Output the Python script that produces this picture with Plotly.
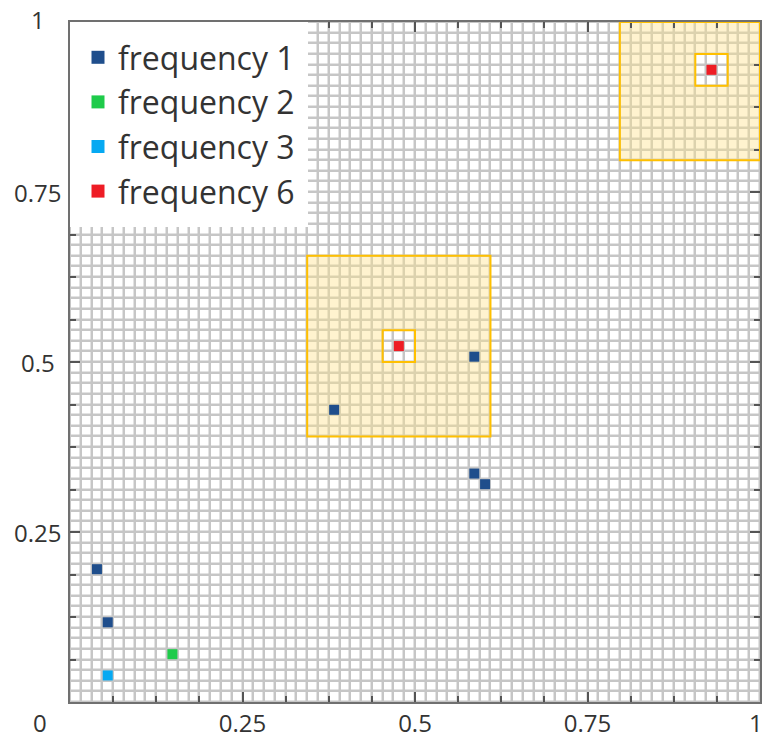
import numpy as np
import plotly.graph_objects as go

# ---------------- data ----------------
n_cells = 64
series_names = ["frequency 1", "frequency 2", "frequency 3", "frequency 6"]
series_colors = ["#1f4e8c", "#1ecb4a", "#06a9f2", "#ee1c25"]
freq1_x = [2, 3, 24, 37, 37, 38]
freq1_y = [12, 7, 27, 32, 21, 20]
freq2_x = [9]
freq2_y = [4]
freq3_x = [3]
freq3_y = [2]
freq6_x = [30, 59]
freq6_y = [33, 59]
outer_half = 8   # cells around each frequency-6 cell (outer highlight)
inner_half = 1   # cells around each frequency-6 cell (inner box)
tick_vals = [0.25, 0.5, 0.75, 1]
tick_text = ["0.25", "0.5", "0.75", "1"]

series_x = [freq1_x, freq2_x, freq3_x, freq6_x]
series_y = [freq1_y, freq2_y, freq3_y, freq6_y]

# ---------------- grid matrix ----------------
z = np.zeros((n_cells, n_cells))
for cx, cy in zip(freq6_x, freq6_y):
    for j in range(max(0, cy - outer_half), min(n_cells, cy + outer_half + 1)):
        for i in range(max(0, cx - outer_half), min(n_cells, cx + outer_half + 1)):
            if abs(i - cx) > inner_half or abs(j - cy) > inner_half:
                z[j, i] = 1
for k, (xs, ys) in enumerate(zip(series_x, series_y)):
    for i, j in zip(xs, ys):
        z[j, i] = 2 + k

cell_colors = ["#ffffff", "#fff3cf"] + series_colors
ncat = len(cell_colors)
colorscale = []
for k, c in enumerate(cell_colors):
    colorscale.append([k / ncat, c])
    colorscale.append([(k + 1) / ncat, c])

centers = (np.arange(n_cells) + 0.5) / n_cells

fig = go.Figure()
fig.add_trace(go.Heatmap(
    x=centers, y=centers, z=z, colorscale=colorscale,
    zmin=-0.5, zmax=ncat - 0.5, showscale=False, xgap=2.5, ygap=2.5,
    hoverinfo="skip", showlegend=False,
))

# coloured cells drawn slightly larger than the white cells
for name, col, xs, ys in zip(series_names, series_colors, series_x, series_y):
    fig.add_trace(go.Scatter(
        x=[(i + 0.5) / n_cells for i in xs], y=[(j + 0.5) / n_cells for j in ys],
        mode="markers", showlegend=False, hoverinfo="skip",
        marker=dict(symbol="square", size=10, color=col, line=dict(width=0)),
    ))
# legend entries
for name, col in zip(series_names, series_colors):
    fig.add_trace(go.Scatter(
        x=[None], y=[None], mode="markers", name=name, legendgroup=name,
        marker=dict(symbol="square", size=13, color=col),
    ))

shapes = []
cs = 1.0 / n_cells
for cx, cy in zip(freq6_x, freq6_y):
    ox0 = max(0, cx - outer_half) * cs
    ox1 = min(n_cells, cx + outer_half + 1) * cs
    oy0 = max(0, cy - outer_half) * cs
    oy1 = min(n_cells, cy + outer_half + 1) * cs
    ix0, ix1 = (cx - inner_half) * cs, (cx + inner_half + 1) * cs
    iy0, iy1 = (cy - inner_half) * cs, (cy + inner_half + 1) * cs
    path = (f"M{ox0},{oy0} L{ox1},{oy0} L{ox1},{oy1} L{ox0},{oy1} Z "
            f"M{ix0},{iy0} L{ix1},{iy0} L{ix1},{iy1} L{ix0},{iy1} Z")
    shapes.append(dict(type="path", path=path, xref="x", yref="y",
                       fillcolor="#dcd2ae", fillrule="evenodd",
                       line=dict(width=0), layer="below"))
    shapes.append(dict(type="rect", x0=ox0, x1=ox1, y0=oy0, y1=oy1,
                       xref="x", yref="y", line=dict(color="#ffc000", width=2),
                       fillcolor="rgba(0,0,0,0)", layer="above"))
    shapes.append(dict(type="rect", x0=ix0, x1=ix1, y0=iy0, y1=iy1,
                       xref="x", yref="y", line=dict(color="#ffc000", width=2),
                       fillcolor="rgba(0,0,0,0)", layer="above"))

label_font = dict(family="Open Sans", size=24, color="#333")
annotations = []
# y-axis labels, centred in the left margin
for v, t in zip(tick_vals, tick_text):
    annotations.append(dict(text=t, x=-0.0464, y=v, xref="paper", yref="y",
                            xanchor="center", yanchor="middle", showarrow=False,
                            yshift=3 if v == 1 else 0, font=label_font))
# shared corner label "0"
annotations.append(dict(text="0", x=-0.0435, y=0, xref="paper", yref="y",
                        xanchor="center", yanchor="middle", showarrow=False,
                        yshift=-20, font=label_font))
# last x label at the right corner
annotations.append(dict(text=tick_text[-1], x=tick_vals[-1], y=0, xref="x", yref="y",
                        xanchor="right", yanchor="middle", showarrow=False,
                        xshift=5, yshift=-20, font=label_font))

axis_common = dict(
    range=[0, 1], showgrid=False, zeroline=False, showline=True,
    linecolor="#707070", linewidth=2, mirror="ticks", automargin=False,
    ticks="inside", ticklen=10, tickwidth=1.5, tickcolor="#555",
    minor=dict(dtick=1 / 16, ticks="inside", ticklen=6, tickwidth=1.5,
               tickcolor="#555", showgrid=False),
    fixedrange=True,
)
fig.update_xaxes(**axis_common, tickvals=[0] + tick_vals,
                 ticktext=[""] + tick_text[:-1] + [""],
                 tickfont=label_font, ticklabelstandoff=-1)
fig.update_yaxes(**axis_common, tickvals=[0] + tick_vals, showticklabels=False)

fig.update_layout(
    width=765, height=738,
    margin=dict(l=70, r=5, t=22, b=36, autoexpand=False),
    plot_bgcolor="#c6c6c6", paper_bgcolor="white",
    shapes=shapes, annotations=annotations,
    legend=dict(x=0, y=1, xanchor="left", yanchor="top", bgcolor="white",
                bordercolor="white", borderwidth=8,
                font=dict(family="Open Sans", size=32, color="#333"),
                tracegroupgap=0, traceorder="grouped"),
    showlegend=True,
)

fig.write_html(
    "out.html",
    config={"displayModeBar": False},
    post_script="document.body.style.margin='0';document.body.style.overflow='hidden';",
)
